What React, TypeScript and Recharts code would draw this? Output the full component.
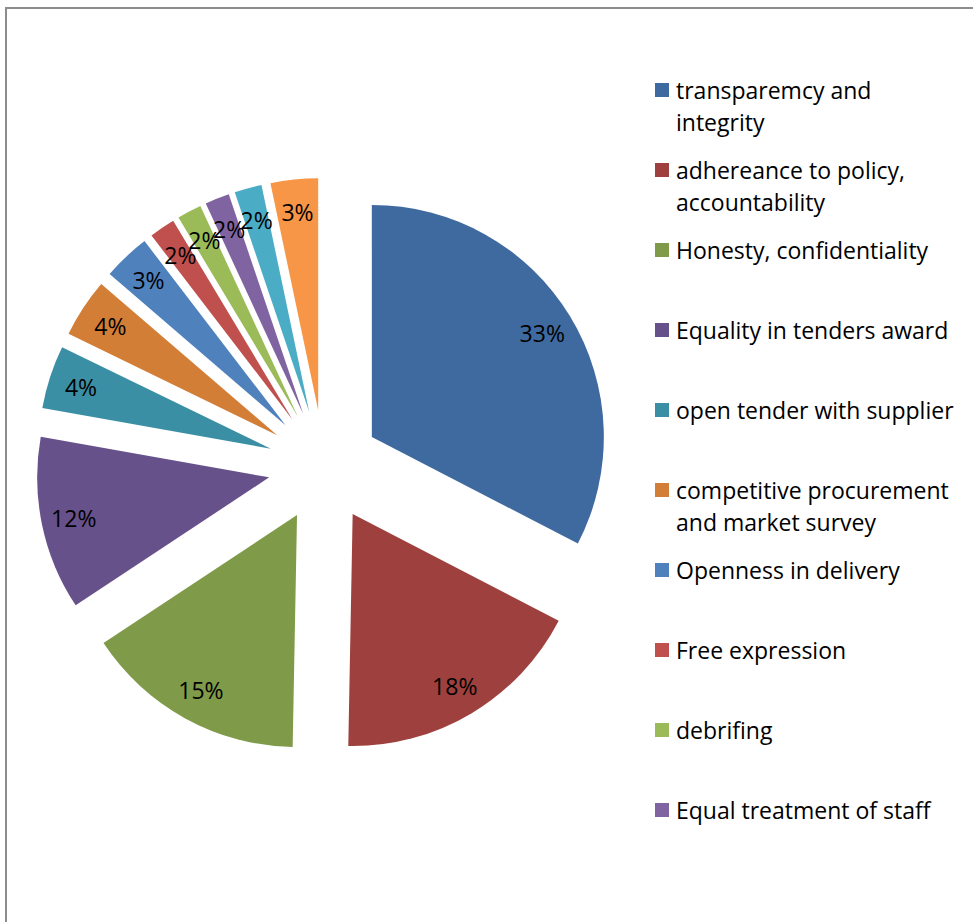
import React from "react";
import { PieChart, Pie, Cell, Sector, Legend } from "recharts";

const NAMES = [
  "transparemcy and integrity",
  "adhereance to policy, accountability",
  "Honesty, confidentiality",
  "Equality in tenders award",
  "open tender with supplier",
  "competitive procurement and market survey",
  "Openness in delivery",
  "Free expression",
  "debrifing",
  "Equal treatment of staff",
  "other",
  "others",
];
// shares; labels show them rounded
const VALUES = [32.6, 17.7, 15.4, 12.1, 4.4, 4.1, 3.3, 1.8, 1.7, 1.7, 1.9, 3.3];
const COLORS = [
  "#3F6A9F", "#9E413E", "#7F9A48", "#67518A", "#3B8FA5", "#D37E37",
  "#4F81BD", "#C0504D", "#9BBB59", "#8064A2", "#4BACC6", "#F79646",
];
const LEGEND_SHOWN = 10;

const data = NAMES.map((name, i) => ({ name, value: VALUES[i] }));

const EXPLODE = 56;
const FONT = "'Open Sans', sans-serif";

const offset = (midAngle: number, dist: number) => {
  const rad = (-midAngle * Math.PI) / 180;
  return [dist * Math.cos(rad), dist * Math.sin(rad)];
};

const renderSlice = (p: any) => {
  const [dx, dy] = offset(p.midAngle, EXPLODE);
  return (
    <Sector
      cx={p.cx + dx}
      cy={p.cy + dy}
      innerRadius={0}
      outerRadius={p.outerRadius}
      startAngle={p.startAngle}
      endAngle={p.endAngle}
      fill={COLORS[p.index]}
      stroke="none"
    />
  );
};

const renderText = (p: any) => {
  const [x, y] = offset(p.midAngle, EXPLODE + p.outerRadius * 0.86);
  return (
    <text
      x={p.cx + x}
      y={p.cy + y}
      textAnchor="middle"
      dominantBaseline="central"
      fill="#000"
      fontFamily={FONT}
      fontSize={23}
    >
      {`${Math.round(VALUES[p.index])}%`}
    </text>
  );
};

// legend follows the data order, Excel-style; the last items don't fit
const LegendList = () => (
  <div style={{ fontFamily: FONT, fontSize: 23, lineHeight: "32px", color: "#000" }}>
    {NAMES.slice(0, LEGEND_SHOWN).map((name, i) => (
      <div key={name} style={{ display: "flex", alignItems: "flex-start", height: 80 }}>
        <div style={{ width: 14, height: 14, marginTop: 9, marginRight: 7, background: COLORS[i], flexShrink: 0 }} />
        <div style={{ width: 283 }}>{name}</div>
      </div>
    ))}
  </div>
);

export default function App() {
  return (
    <div style={{ position: "absolute", left: 0, top: 0, width: 973, height: 922, overflow: "hidden", background: "#fff" }}>
      <div
        style={{
          position: "absolute", left: 5, top: 7, width: 1000, height: 1000,
          borderTop: "2px solid #8c8c8c", borderLeft: "2px solid #8c8c8c",
        }}
      />
      <div style={{ position: "absolute", left: 0, top: 0 }}>
        <PieChart width={973} height={922} margin={{ top: 0, right: 0, bottom: 0, left: 0 }}>
          <Pie
            data={data}
            dataKey="value"
            nameKey="name"
            cx={324}
            cy={466}
            outerRadius={232}
            startAngle={90}
            endAngle={-270}
            stroke="none"
            labelLine={false}
            label={renderSlice}
            isAnimationActive={false}
          >
            {data.map((d) => (
              <Cell key={d.name} fill="transparent" />
            ))}
          </Pie>
          <Pie
            data={data}
            dataKey="value"
            nameKey="name"
            cx={324}
            cy={466}
            outerRadius={232}
            startAngle={90}
            endAngle={-270}
            stroke="none"
            fill="transparent"
            labelLine={false}
            label={renderText}
            legendType="none"
            isAnimationActive={false}
          />
          <Legend
            layout="vertical"
            align="right"
            verticalAlign="top"
            wrapperStyle={{ left: 655, top: 74, width: 318 }}
            content={() => <LegendList />}
          />
        </PieChart>
      </div>
    </div>
  );
}
